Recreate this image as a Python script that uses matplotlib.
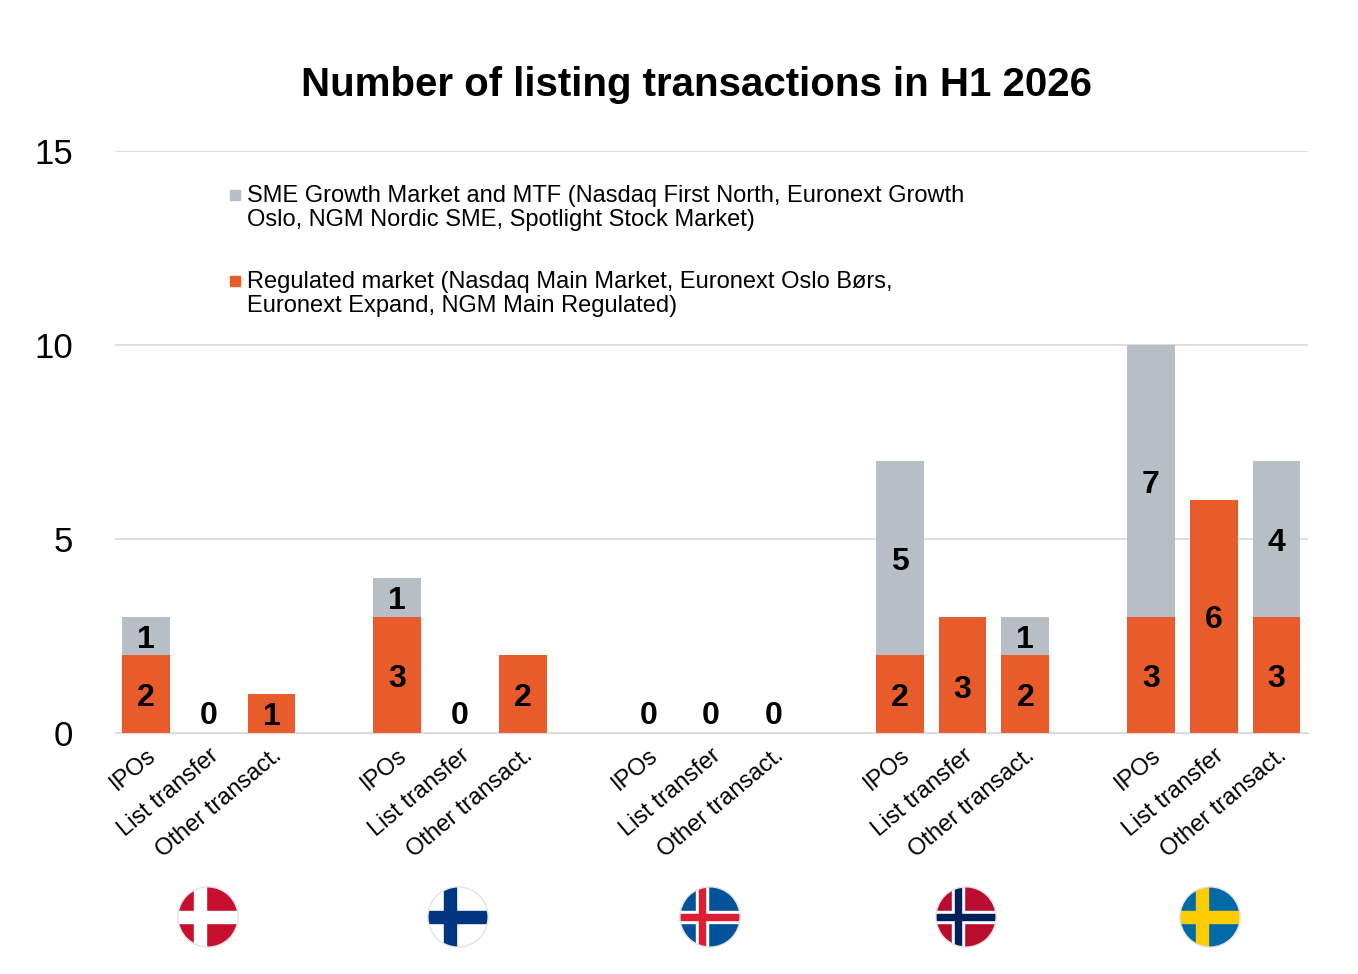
import numpy as np
import matplotlib.pyplot as plt
from matplotlib.patches import Circle, Rectangle

plt.rcParams['font.family'] = ['Liberation Sans', 'DejaVu Sans']

countries = ["Denmark", "Finland", "Iceland", "Norway", "Sweden"]
types = ["IPOs", "List transfer", "Other transact."]
regulated = [2, 0, 1, 3, 0, 2, 0, 0, 0, 2, 3, 2, 3, 6, 3]
sme = [1, 0, 0, 1, 0, 0, 0, 0, 0, 5, 0, 1, 7, 0, 4]

ORANGE = "#E85C2C"
GREY = "#B8BEC6"

fig = plt.figure(figsize=(13.58, 9.74), dpi=100)
ax = fig.add_axes([115 / 1358, 1 - 733 / 974, 1193 / 1358, 582 / 974])

pos = np.array([g * 4 + i for g in range(5) for i in range(3)], dtype=float)
w = 0.76
ax.bar(pos, regulated, w, color=ORANGE, zorder=2)
ax.bar(pos, sme, w, bottom=regulated, color=GREY, zorder=2)

for x, r, s in zip(pos, regulated, sme):
    if r + s == 0:
        ax.text(x, 0.05, "0", ha="center", va="bottom", fontsize=23, fontweight="bold")
    if r > 0:
        ax.text(x, r / 2 - (0.3 if s == 0 and r == 3 else 0) - 0.1, str(r), ha="center", va="center",
                fontsize=23, fontweight="bold")
    if s > 0:
        ax.text(x, r + s / 2 - 0.1, str(s), ha="center", va="center", fontsize=23, fontweight="bold")

ax.set_xlim(-0.49, 18.5)
ax.set_ylim(0, 15)
ax.set_yticks([0, 5, 10, 15])
ax.tick_params(axis="y", labelsize=25, length=0, pad=30)
ax.yaxis.grid(True, color="#D9D9D9", lw=1.2, zorder=0)
ax.set_xticks(pos)
ax.set_xticklabels(types * 5, rotation=40, ha="right", rotation_mode="anchor", fontsize=17)
ax.tick_params(axis="x", length=0, pad=8)
for sp in ["top", "right", "left"]:
    ax.spines[sp].set_visible(False)
ax.spines["bottom"].set_color("#D9D9D9")

fig.text(0.513, 1 - 85 / 974, "Number of listing transactions in H1 2026", ha="center", va="center",
         fontsize=29, fontweight="bold")

fig.patches.append(Rectangle((230 / 1358, 1 - 200 / 974), 10 / 1358, 10 / 974, color=GREY,
                             transform=fig.transFigure))
fig.text(247 / 1358, 1 - 208 / 974,
         "SME Growth Market and MTF (Nasdaq First North, Euronext Growth\nOslo, NGM Nordic SME, Spotlight Stock Market)",
         ha="left", va="center", fontsize=17, linespacing=1.15)
fig.patches.append(Rectangle((230 / 1358, 1 - 286 / 974), 10 / 1358, 10 / 974, color=ORANGE,
                             transform=fig.transFigure))
fig.text(247 / 1358, 1 - 294 / 974,
         "Regulated market (Nasdaq Main Market, Euronext Oslo Børs,\nEuronext Expand, NGM Main Regulated)",
         ha="left", va="center", fontsize=17, linespacing=1.15)

# flags: (background, outer cross, inner cross)
flags = [("#C8102E", "white", None), ("white", "#003580", None), ("#02529C", "white", "#DC1E35"),
         ("#BA0C2F", "white", "#00205B"), ("#006AA7", "#FECC02", None)]
centers = [208, 458, 710, 966, 1210]
for cx, (bg, c1, c2) in zip(centers, flags):
    fa = fig.add_axes([(cx - 31) / 1358, 1 - 948 / 974, 62 / 1358, 62 / 974])
    fa.set_xlim(-1.03, 1.03)
    fa.set_ylim(-1.03, 1.03)
    fa.axis("off")
    circ = Circle((0, 0), 1, transform=fa.transData)
    items = [fa.add_patch(Rectangle((-1, -1), 2, 2, color=bg))]
    items.append(fa.add_patch(Rectangle((-1, -0.2), 2, 0.4, color=c1)))
    items.append(fa.add_patch(Rectangle((-0.45, -1), 0.4, 2, color=c1)))
    if c2:
        items.append(fa.add_patch(Rectangle((-1, -0.1), 2, 0.2, color=c2)))
        items.append(fa.add_patch(Rectangle((-0.35, -1), 0.2, 2, color=c2)))
    for it in items:
        it.set_clip_path(circ)
    fa.add_patch(Circle((0, 0), 1, fill=False, ec="#E4E4E4", lw=1))

fig.savefig("out.png", dpi=100)
